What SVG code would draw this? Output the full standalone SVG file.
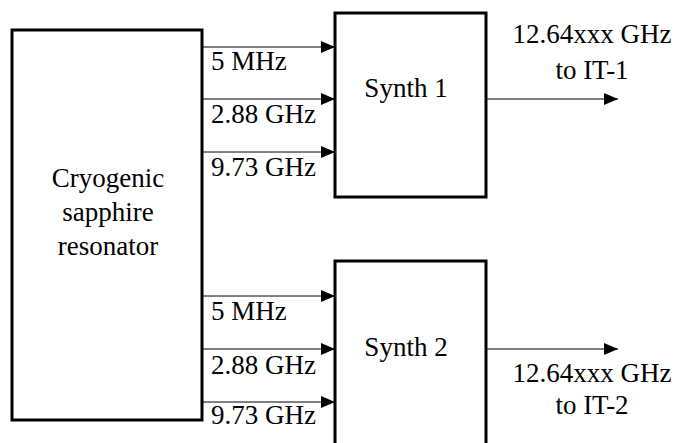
<svg xmlns="http://www.w3.org/2000/svg" width="687" height="443" viewBox="0 0 687 443">
<style>
.box{fill:#fff;stroke:#000;stroke-width:3}
.t{font-family:"Liberation Serif",serif;font-size:27px;fill:#000}
.c{text-anchor:middle}
.ln{stroke:#000;stroke-width:1;fill:none;marker-end:url(#ah)}
</style>
<defs>
<marker id="ah" viewBox="0 0 14 12" refX="14" refY="6" markerWidth="14" markerHeight="12" markerUnits="userSpaceOnUse" orient="auto">
<path d="M0,0 L14,6 L0,12 Z" fill="#000"/>
</marker>
</defs>
<rect width="687" height="443" fill="#fff"/>
<g id="connectors">
<line class="ln" x1="202" y1="47" x2="335" y2="47"/>
<line class="ln" x1="202" y1="99" x2="335" y2="99"/>
<line class="ln" x1="202" y1="152" x2="335" y2="152"/>
<line class="ln" x1="202" y1="296" x2="335" y2="296"/>
<line class="ln" x1="202" y1="349" x2="335" y2="349"/>
<line class="ln" x1="202" y1="402" x2="335" y2="402"/>
<line class="ln" x1="486" y1="99" x2="618" y2="99"/>
<line class="ln" x1="486" y1="349" x2="618" y2="349"/>
<text class="t" x="211" y="70">5 MHz</text>
<text class="t" x="211" y="123">2.88 GHz</text>
<text class="t" x="211" y="176">9.73 GHz</text>
<text class="t" x="211" y="320">5 MHz</text>
<text class="t" x="211" y="374">2.88 GHz</text>
<text class="t" x="211" y="424">9.73 GHz</text>
<text class="t c" x="592" y="43">12.64xxx GHz</text>
<text class="t c" x="592" y="79">to IT-1</text>
<text class="t c" x="592" y="382">12.64xxx GHz</text>
<text class="t c" x="592" y="414">to IT-2</text>
</g>
<g id="csr">
<rect class="box" x="12" y="30" width="190" height="390"/>
<text class="t c" x="108" y="187">Cryogenic</text>
<text class="t c" x="108" y="221">sapphire</text>
<text class="t c" x="108" y="255">resonator</text>
</g>
<g id="synth1">
<rect class="box" x="335" y="13" width="151" height="184"/>
<text class="t c" x="406" y="97">Synth 1</text>
</g>
<g id="synth2">
<rect class="box" x="335" y="261" width="151" height="200"/>
<text class="t c" x="406" y="356">Synth 2</text>
</g>
</svg>
